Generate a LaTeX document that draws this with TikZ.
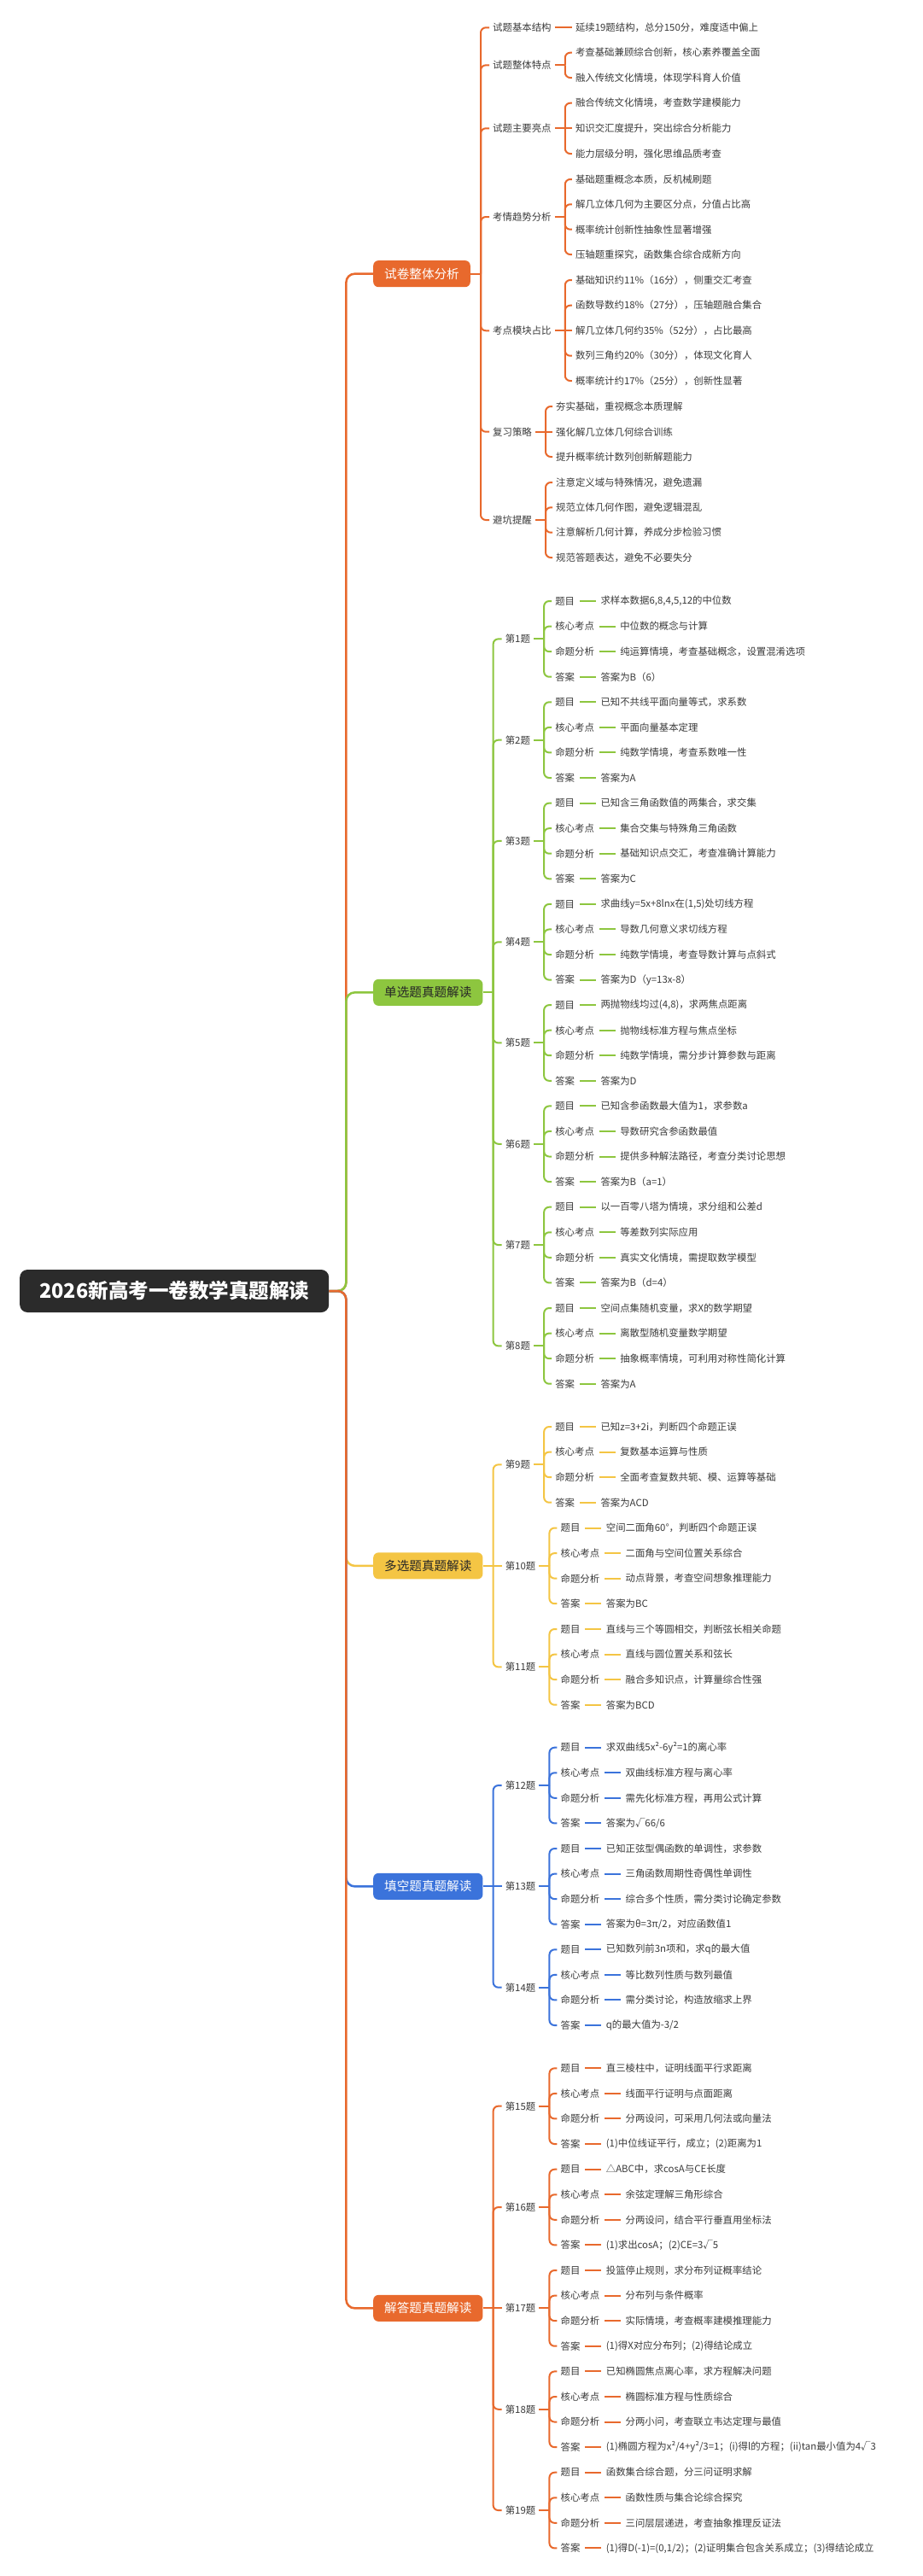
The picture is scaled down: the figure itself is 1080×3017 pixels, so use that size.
\documentclass[tikz,border=0pt]{standalone}
\usepackage{fontspec}
\setmainfont{Noto Sans CJK SC}
\definecolor{cA}{HTML}{E8692D}
\definecolor{cB}{HTML}{8DC63F}
\definecolor{cC}{HTML}{F4C544}
\definecolor{cD}{HTML}{3B73DB}
\definecolor{cE}{HTML}{E8692D}
\definecolor{rootc}{HTML}{2B2B2B}
\definecolor{txt}{HTML}{3A3A3A}
\definecolor{dtxt}{HTML}{262626}
% question group: #1 parent, #2 number, #3 base y, #4-#7 texts
\newcommand\qg[7]{%
  \node[lab,xshift=10pt] (q#2) at (#1-t |- 0,#3+44.35) {第#2题};
  \coordinate (q#2-t) at ([xshift=12pt]q#2.east);
  \node[lab,xshift=9pt] (q#2a) at (q#2-t |- 0,#3) {题目};
  \node[lab,xshift=9pt] (q#2b) at (q#2-t |- 0,#3+29.57) {核心考点};
  \node[lab,xshift=9pt] (q#2c) at (q#2-t |- 0,#3+59.13) {命题分析};
  \node[lab,xshift=9pt] (q#2d) at (q#2-t |- 0,#3+88.7) {答案};
  \node[lab,xshift=22pt] (q#2a-x) at (q#2a.east) {#4};
  \node[lab,xshift=22pt] (q#2b-x) at (q#2b.east) {#5};
  \node[lab,xshift=22pt] (q#2c-x) at (q#2c.east) {#6};
  \node[lab,xshift=22pt] (q#2d-x) at (q#2d.east) {#7};
  \begin{scope}[ln,c#1]
    \draw (q#2.east) -- (q#2-t);
    \foreach \s in {a,b,c,d}{%
      \draw (q#2-t) |- (q#2\s.west);
      \draw[shorten <=1.5pt,shorten >=1.5pt] (q#2\s.east) -- (q#2\s-x.west);
    }
  \end{scope}
}
\newcommand\al[4]{\node[lab,xshift=8pt] (#1) at (#2-t |- 0,#3) {#4};}
\newcommand\ak[3]{\node[lab,xshift=10pt] (#1) at (A-t |- 0,#2) {#3};
  \coordinate (#1-t) at ([xshift=12pt]#1.east);}
\begin{document}
\begin{tikzpicture}[x=1pt,y=-1pt,
  lab/.style={anchor=west,inner xsep=4pt,inner ysep=1pt,text=txt,font=\fontsize{11.4pt}{13pt}\selectfont},
  box/.style={anchor=west,rounded corners=6pt,inner xsep=13pt,inner ysep=0pt,minimum height=31pt,font=\fontsize{14.6pt}{16pt}\selectfont},
  ln/.style={line width=2pt,rounded corners=6pt},
  rl/.style={line width=2.5pt,rounded corners=10pt},
]
\fill[white] (0,0) rectangle (1080,3017);
\useasboundingbox (0,0) rectangle (1080,3017);

% root
\node[anchor=west,fill=rootc,text=white,rounded corners=9pt,minimum width=362pt,minimum height=50pt,
  font=\fontsize{23.5pt}{28pt}\selectfont\bfseries] (root) at (23,1512) {2026新高考一卷数学真题解读};
\coordinate (root-t) at ([xshift=20pt]root.east);

% level 1 boxes
\node[box,fill=cA,text=white] (A) at (437,320.65) {试卷整体分析};
\node[box,fill=cB,text=dtxt] (B) at (437,1162.35) {单选题真题解读};
\node[box,fill=cC,text=dtxt] (C) at (437,1833.85) {多选题真题解读};
\node[box,fill=cD,text=white] (D) at (437,2209.35) {填空题真题解读};
\node[box,fill=cE,text=white] (E) at (437,2703.35) {解答题真题解读};
\foreach \n in {A,B,C,D,E}{\coordinate (\n-t) at ([xshift=12pt]\n.east);}

% root connectors
\draw[rl,cA] (root.east) -- (root-t) |- (A.west);
\draw[rl,cB] (root.east) -- (root-t) |- (B.west);
\draw[rl,cC] (root.east) -- (root-t) |- (C.west);
\draw[rl,cD] (root.east) -- (root-t) |- (D.west);
\draw[rl,cE] (root.east) -- (root-t) |- (E.west);

% ---------- group A ----------
\ak{A1}{32.3}{试题基本结构}
\ak{A2}{76.35}{试题整体特点}
\ak{A3}{150.3}{试题主要亮点}
\ak{A4}{254}{考情趋势分析}
\ak{A5}{387.3}{考点模块占比}
\ak{A6}{505.7}{复习策略}
\ak{A7}{609}{避坑提醒}
\al{A1a}{A1}{32.3}{延续19题结构，总分150分，难度适中偏上}
\al{A2a}{A2}{61.7}{考查基础兼顾综合创新，核心素养覆盖全面}
\al{A2b}{A2}{91}{融入传统文化情境，体现学科育人价值}
\al{A3a}{A3}{120.7}{融合传统文化情境，考查数学建模能力}
\al{A3b}{A3}{150.3}{知识交汇度提升，突出综合分析能力}
\al{A3c}{A3}{180}{能力层级分明，强化思维品质考查}
\al{A4a}{A4}{210}{基础题重概念本质，反机械刷题}
\al{A4b}{A4}{239.3}{解几立体几何为主要区分点，分值占比高}
\al{A4c}{A4}{268.7}{概率统计创新性抽象性显著增强}
\al{A4d}{A4}{298}{压轴题重探究，函数集合综合成新方向}
\al{A5a}{A5}{328}{基础知识约11\%（16分），侧重交汇考查}
\al{A5b}{A5}{357.7}{函数导数约18\%（27分），压轴题融合集合}
\al{A5c}{A5}{387.3}{解几立体几何约35\%（52分），占比最高}
\al{A5d}{A5}{416.7}{数列三角约20\%（30分），体现文化育人}
\al{A5e}{A5}{446}{概率统计约17\%（25分），创新性显著}
\al{A6a}{A6}{476}{夯实基础，重视概念本质理解}
\al{A6b}{A6}{505.7}{强化解几立体几何综合训练}
\al{A6c}{A6}{535}{提升概率统计数列创新解题能力}
\al{A7a}{A7}{565}{注意定义域与特殊情况，避免遗漏}
\al{A7b}{A7}{594.3}{规范立体几何作图，避免逻辑混乱}
\al{A7c}{A7}{623.7}{注意解析几何计算，养成分步检验习惯}
\al{A7d}{A7}{653}{规范答题表达，避免不必要失分}
\begin{scope}[ln,cA]
  \draw (A.east) -- (A-t);
  \foreach \k in {A1,A2,A3,A4,A5,A6,A7}{\draw (A-t) |- (\k.west); \draw (\k.east) -- (\k-t);}
  \draw (A1-t) -- (A1a.west);
  \foreach \k in {A2a,A2b}{\draw (A2-t) |- (\k.west);}
  \foreach \k in {A3a,A3c}{\draw (A3-t) |- (\k.west);}
  \draw (A3-t) -- (A3b.west);
  \foreach \k in {A4a,A4b,A4c,A4d}{\draw (A4-t) |- (\k.west);}
  \foreach \k in {A5a,A5b,A5d,A5e}{\draw (A5-t) |- (\k.west);}
  \draw (A5-t) -- (A5c.west);
  \foreach \k in {A6a,A6c}{\draw (A6-t) |- (\k.west);}
  \draw (A6-t) -- (A6b.west);
  \foreach \k in {A7a,A7b,A7c,A7d}{\draw (A7-t) |- (\k.west);}
\end{scope}

% ---------- group B ----------
\draw[ln,cB] (B.east) -- (B-t);
\qg{B}{1}{704}{求样本数据6,8,4,5,12的中位数}{中位数的概念与计算}{纯运算情境，考查基础概念，设置混淆选项}{答案为B（6）}
\qg{B}{2}{822.3}{已知不共线平面向量等式，求系数}{平面向量基本定理}{纯数学情境，考查系数唯一性}{答案为A}
\qg{B}{3}{940.6}{已知含三角函数值的两集合，求交集}{集合交集与特殊角三角函数}{基础知识点交汇，考查准确计算能力}{答案为C}
\qg{B}{4}{1058.9}{求曲线y=5x+8lnx在(1,5)处切线方程}{导数几何意义求切线方程}{纯数学情境，考查导数计算与点斜式}{答案为D（y=13x-8）}
\qg{B}{5}{1177.1}{两抛物线均过(4,8)，求两焦点距离}{抛物线标准方程与焦点坐标}{纯数学情境，需分步计算参数与距离}{答案为D}
\qg{B}{6}{1295.4}{已知含参函数最大值为1，求参数a}{导数研究含参函数最值}{提供多种解法路径，考查分类讨论思想}{答案为B（a=1）}
\qg{B}{7}{1413.7}{以一百零八塔为情境，求分组和公差d}{等差数列实际应用}{真实文化情境，需提取数学模型}{答案为B（d=4）}
\qg{B}{8}{1532}{空间点集随机变量，求X的数学期望}{离散型随机变量数学期望}{抽象概率情境，可利用对称性简化计算}{答案为A}
\foreach \k in {1,...,8}{\draw[ln,cB] (B-t) |- (q\k.west);}

% ---------- group C ----------
\draw[ln,cC] (C.east) -- (C-t);
\qg{C}{9}{1671}{已知z=3+2i，判断四个命题正误}{复数基本运算与性质}{全面考查复数共轭、模、运算等基础}{答案为ACD}
\qg{C}{10}{1789.5}{空间二面角60°，判断四个命题正误}{二面角与空间位置关系综合}{动点背景，考查空间想象推理能力}{答案为BC}
\qg{C}{11}{1908}{直线与三个等圆相交，判断弦长相关命题}{直线与圆位置关系和弦长}{融合多知识点，计算量综合性强}{答案为BCD}
\draw[ln,cC] (C-t) |- (q9.west);
\draw[ln,cC] (C-t) -- (q10.west);
\draw[ln,cC] (C-t) |- (q11.west);

% ---------- group D ----------
\draw[ln,cD] (D.east) -- (D-t);
\qg{D}{12}{2046.7}{求双曲线5x²-6y²=1的离心率}{双曲线标准方程与离心率}{需先化标准方程，再用公式计算}{答案为√66/6}
\qg{D}{13}{2165}{已知正弦型偶函数的单调性，求参数}{三角函数周期性奇偶性单调性}{综合多个性质，需分类讨论确定参数}{答案为θ=3π/2，对应函数值1}
\qg{D}{14}{2283.3}{已知数列前3n项和，求q的最大值}{等比数列性质与数列最值}{需分类讨论，构造放缩求上界}{q的最大值为-3/2}
\draw[ln,cD] (D-t) |- (q12.west);
\draw[ln,cD] (D-t) -- (q13.west);
\draw[ln,cD] (D-t) |- (q14.west);

% ---------- group E ----------
\draw[ln,cE] (E.east) -- (E-t);
\qg{E}{15}{2422.3}{直三棱柱中，证明线面平行求距离}{线面平行证明与点面距离}{分两设问，可采用几何法或向量法}{(1)中位线证平行，成立；(2)距离为1}
\qg{E}{16}{2540.7}{△ABC中，求cosA与CE长度}{余弦定理解三角形综合}{分两设问，结合平行垂直用坐标法}{(1)求出cosA；(2)CE=3√5}
\qg{E}{17}{2659}{投篮停止规则，求分布列证概率结论}{分布列与条件概率}{实际情境，考查概率建模推理能力}{(1)得X对应分布列；(2)得结论成立}
\qg{E}{18}{2777.4}{已知椭圆焦点离心率，求方程解决问题}{椭圆标准方程与性质综合}{分两小问，考查联立韦达定理与最值}{(1)椭圆方程为x²/4+y²/3=1；(i)得l的方程；(ii)tan最小值为4√3}
\qg{E}{19}{2895.7}{函数集合综合题，分三问证明求解}{函数性质与集合论综合探究}{三问层层递进，考查抽象推理反证法}{(1)得D(-1)=(0,1/2)；(2)证明集合包含关系成立；(3)得结论成立}
\draw[ln,cE] (E-t) |- (q15.west);
\draw[ln,cE] (E-t) |- (q16.west);
\draw[ln,cE] (E-t) -- (q17.west);
\draw[ln,cE] (E-t) |- (q18.west);
\draw[ln,cE] (E-t) |- (q19.west);
\end{tikzpicture}
\end{document}
